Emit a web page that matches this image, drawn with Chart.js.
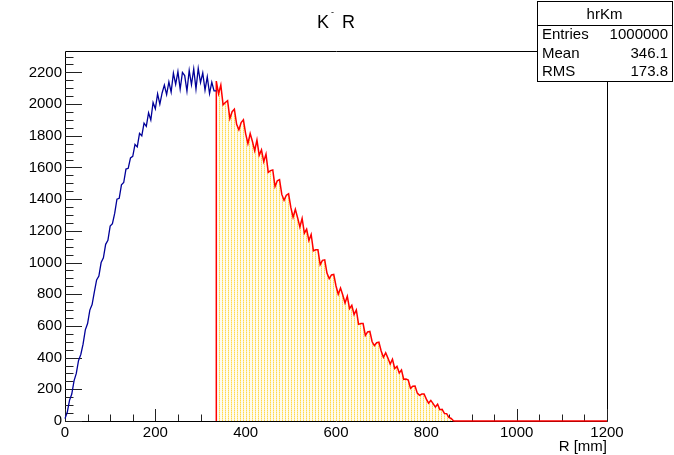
<!DOCTYPE html>
<html>
<head>
<meta charset="utf-8">
<script src="https://cdn.jsdelivr.net/npm/chart.js@4.4.1/dist/chart.umd.min.js"></script>
<style>
body{margin:0;background:#fff;}
</style>
</head>
<body>
<canvas id="c" width="674" height="455"></canvas>
<script>
// hrKm, counts per 1 mm every 5 mm
const binWidth = 5;
const cutR = 335;
const rMax = 1200;
const yMax = 2335;

const blueCounts = [15,55,130,170,253,300,382,420,485,575,
  615,700,735,815,890,915,1000,1030,1115,1140,
  1230,1245,1310,1400,1405,1490,1505,1590,1595,1660,
  1670,1745,1730,1815,1800,1880,1860,1945,1900,2010,
  1970,2065,2000,2070,2120,2060,2140,2075,2195,2125,
  2205,2095,2200,2180,2082,2212,2122,2222,2095,2225,
  2135,2197,2088,2172,2066,2138,2083];

const redCounts = [2145,2065,2120,1995,2010,2022,1909,1952,1968,1872,
  1838,1883,1901,1812,1751,1814,1764,1706,1773,1677,
  1711,1637,1684,1569,1580,1584,1480,1516,1523,1430,
  1393,1425,1434,1348,1286,1336,1283,1224,1278,1185,
  1211,1139,1177,1074,1080,1080,987,1014,1017,933,
  899,922,925,852,800,839,795,745,787,709,
  730,672,701,610,615,615,540,562,566,500,
  476,494,497,442,402,431,397,359,390,331,
  345,303,322,263,265,259,206,220,221,176,
  162,170,170,138,113,130,110,88,106,71,
  74,48,46,22,16,2,0];

const xTicks = [0,200,400,600,800,1000,1200];
const yTicks = [0,200,400,600,800,1000,1200,1400,1600,1800,2000,2200];
const statNames = ["Entries","Mean","RMS"];
const statValues = ["1000000","346.1","173.8"];

function toPoints(counts, start){
    let pts = [];
    for(i=0;i<counts.length;i++){
        pts.push({x:start+i*binWidth, y:counts[i]});
    }
    return pts;
}

let bluePts = toPoints(blueCounts,0);
bluePts.push({x:cutR, y:blueCounts[blueCounts.length-1]});
let redPts = [{x:cutR,y:0}].concat(toPoints(redCounts,cutR));
redPts.push({x:rMax,y:0});

// dotted yellow fill like the ROOT pattern
const pc = document.createElement('canvas');
pc.width = 3; pc.height = 2;
const pctx = pc.getContext('2d');
pctx.fillStyle = '#fffcf0'; pctx.fillRect(0,0,3,2);
pctx.fillStyle = '#ffd94d'; pctx.fillRect(0,0,1,1);
pctx.fillStyle = '#ffeaa0'; pctx.fillRect(0,1,1,1);
const fillPattern = pctx.createPattern(pc,'repeat');

const FONT = '"Liberation Sans", Arial, sans-serif';

const rootAxes = {
    id: 'rootAxes',
    beforeDatasetsDraw(chart){
        const ctx = chart.ctx, a = chart.chartArea, x = chart.scales.x, y = chart.scales.y;
        ctx.save();
        ctx.strokeStyle = '#000';
        ctx.lineWidth = 1;
        ctx.beginPath();
        ctx.moveTo(a.left+0.5, a.top+0.5);
        ctx.lineTo(a.right+0.5, a.top+0.5);
        ctx.lineTo(a.right+0.5, a.bottom+0.5);
        ctx.lineTo(a.left+0.5, a.bottom+0.5);
        ctx.closePath();
        ctx.stroke();
        ctx.strokeStyle = '#222';
        ctx.beginPath();
        for(let v=0; v<=yMax; v+=50){
            const py = Math.round(y.getPixelForValue(v))+0.5;
            const len = v%200==0 ? 17 : 8.5;
            ctx.moveTo(a.left, py); ctx.lineTo(a.left+len, py);
        }
        for(let v=0; v<=rMax; v+=50){
            const px = Math.round(x.getPixelForValue(v))+0.5;
            const len = v%200==0 ? 12 : 6.5;
            ctx.moveTo(px, a.bottom); ctx.lineTo(px, a.bottom-len);
        }
        ctx.stroke();
        ctx.restore();
    },
    afterDraw(chart){
        const ctx = chart.ctx, a = chart.chartArea, x = chart.scales.x, y = chart.scales.y;
        ctx.save();
        ctx.fillStyle = '#000';
        ctx.font = '15px ' + FONT;
        ctx.textAlign = 'right'; ctx.textBaseline = 'middle';
        yTicks.forEach(v => ctx.fillText(String(v), a.left-3, y.getPixelForValue(v)));
        ctx.textAlign = 'center';
        xTicks.forEach(v => ctx.fillText(String(v), x.getPixelForValue(v), a.bottom+12));
        ctx.textAlign = 'right';
        ctx.fillText('R [mm]', a.right, a.bottom+26);

        // title K^- R
        ctx.textAlign = 'left'; ctx.textBaseline = 'alphabetic';
        ctx.font = '18px ' + FONT;
        ctx.fillText('K', 317, 28);
        ctx.font = '9px ' + FONT;
        ctx.fillText('-', 331, 15);
        ctx.font = '18px ' + FONT;
        ctx.fillText('R', 342, 28);

        // stats box
        const bx = 537, by = 1, bw = 135, bh = 80;
        ctx.fillStyle = '#fff';
        ctx.fillRect(bx, by, bw, bh);
        ctx.strokeStyle = '#000';
        ctx.strokeRect(bx+0.5, by+0.5, bw, bh);
        ctx.beginPath();
        ctx.moveTo(bx, 25.5); ctx.lineTo(bx+bw, 25.5);
        ctx.stroke();
        ctx.fillStyle = '#000';
        ctx.font = '15px ' + FONT;
        ctx.textBaseline = 'middle';
        ctx.textAlign = 'center';
        ctx.fillText('hrKm', bx+bw/2, 15);
        const rowY = [35, 54, 72];
        for(i=0;i<statNames.length;i++){
            ctx.textAlign = 'left';
            ctx.fillText(statNames[i], 542, rowY[i]);
            ctx.textAlign = 'right';
            ctx.fillText(statValues[i], 668, rowY[i]);
        }
        ctx.restore();
    }
};

new Chart(document.getElementById('c').getContext('2d'), {
    type: 'line',
    data: {
        datasets: [{
            data: bluePts,
            borderColor: '#000099',
            borderWidth: 1.3,
            pointRadius: 0,
            tension: 0,
            fill: false,
            clip: 3
        },{
            data: redPts,
            borderColor: '#ff0000',
            backgroundColor: fillPattern,
            borderWidth: 1.5,
            pointRadius: 0,
            tension: 0,
            fill: 'origin',
            clip: 3
        }]
    },
    options: {
        responsive: false,
        animation: false,
        devicePixelRatio: 1,
        layout: {padding: {left: 65, right: 67, top: 51, bottom: 34}},
        plugins: {legend: {display: false}, tooltip: {enabled: false}},
        scales: {
            x: {type: 'linear', min: 0, max: rMax, display: false},
            y: {type: 'linear', min: 0, max: yMax, display: false}
        }
    },
    plugins: [rootAxes]
});
</script>
</body>
</html>
